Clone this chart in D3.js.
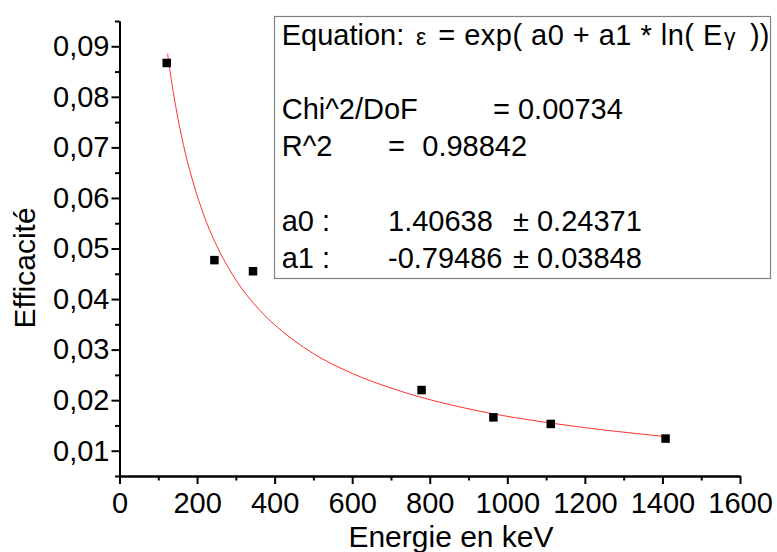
<!DOCTYPE html>
<html>
<head>
<meta charset="utf-8">
<script src="https://cdn.jsdelivr.net/npm/d3@7"></script>
<style>
  body { margin: 0; background: #fff; }
  text { font-family: "Liberation Sans", Arial, sans-serif; fill: #000; }
</style>
</head>
<body>
<script>
'use strict';

// measured points (energy in keV, efficiency)
var energies = [121.8, 244.7, 344.3, 778.9, 964.1, 1112.1, 1408.0];
var efficiencies = [0.0867, 0.0477, 0.0455, 0.0220, 0.0166, 0.0153, 0.0124];

// fitted curve
var fitEnergies = [124, 140, 160, 180, 210, 240, 280, 330, 400, 500, 600, 700, 800, 950, 1100, 1250, 1408];
var fitValues = [0.0885, 0.0803, 0.0722, 0.0658, 0.0582, 0.0523, 0.0463, 0.0406, 0.0349, 0.0292, 0.0253, 0.0224, 0.0201, 0.0175, 0.0156, 0.0141, 0.0128];

var xMajorTicks = [0, 200, 400, 600, 800, 1000, 1200, 1400, 1600];
var xMinorTicks = [100, 300, 500, 700, 900, 1100, 1300, 1500];
var yMajorTicks = [0.01, 0.02, 0.03, 0.04, 0.05, 0.06, 0.07, 0.08, 0.09];
var yMinorTicks = [0.005, 0.015, 0.025, 0.035, 0.045, 0.055, 0.065, 0.075, 0.085, 0.095];

var xTitle = "Energie en keV";
var yTitle = "Efficacité";

var myChart = {};

myChart.width = 777;
myChart.height = 552;
myChart.left = 119.5;
myChart.right = 740;
myChart.top = 21;
myChart.bottom = 476;

myChart.x = d3.scaleLinear().domain([0, 1600]).range([myChart.left, myChart.right]);
myChart.y = d3.scaleLinear().domain([0.005, 0.095]).range([myChart.bottom, myChart.top]);

myChart.frFormat = d3.formatLocale({decimal: ",", thousands: "", grouping: [3], currency: ["", ""]}).format(".2f");

myChart.appendSVG = function(div){
    return d3.select(div).append("svg")
        .attr("width", myChart.width)
        .attr("height", myChart.height);
}

myChart.styleAxis = function(g){
    g.select(".domain").attr("stroke", "#000").attr("stroke-width", 2);
    g.selectAll(".tick line").attr("stroke", "#000").attr("stroke-width", 2);
    g.selectAll(".tick text").style("font-size", "29px").attr("fill", "#000");
}

myChart.createAxes = function(svg){
    var x = myChart.x, y = myChart.y;

    svg.append("g")
        .attr("transform", "translate(0," + myChart.bottom + ")")
        .call(d3.axisBottom(x).tickValues(xMinorTicks).tickSize(4.5).tickFormat("").tickSizeOuter(0))
        .call(myChart.styleAxis);

    svg.append("g")
        .attr("transform", "translate(" + myChart.left + ",0)")
        .call(d3.axisLeft(y).tickValues(yMinorTicks).tickSize(4.5).tickFormat("").tickSizeOuter(0))
        .call(myChart.styleAxis);

    svg.append("g")
        .attr("transform", "translate(0," + myChart.bottom + ")")
        .call(d3.axisBottom(x).tickValues(xMajorTicks).tickSize(8).tickPadding(8.5).tickSizeOuter(0).tickFormat(d3.format("d")))
        .call(myChart.styleAxis);

    svg.append("g")
        .attr("transform", "translate(" + myChart.left + ",0)")
        .call(d3.axisLeft(y).tickValues(yMajorTicks).tickSize(8).tickPadding(2).tickSizeOuter(0).tickFormat(myChart.frFormat))
        .call(myChart.styleAxis);

    svg.append("text")
        .attr("x", 451)
        .attr("y", 547)
        .attr("text-anchor", "middle")
        .style("font-size", "30px")
        .text(xTitle);

    svg.append("text")
        .attr("transform", "translate(35,268) rotate(-90)")
        .attr("text-anchor", "middle")
        .style("font-size", "30px")
        .text(yTitle);
}

myChart.createFit = function(svg){
    var line = d3.line()
        .x(function(d){ return myChart.x(d[0]); })
        .y(function(d){ return myChart.y(d[1]); })
        .curve(d3.curveCatmullRom);

    svg.append("path")
        .datum(d3.zip(fitEnergies, fitValues))
        .attr("d", line)
        .attr("fill", "none")
        .attr("stroke", "#ff3030")
        .attr("stroke-width", 1);
}

myChart.createPoints = function(svg){
    var s = 8.5;
    svg.selectAll(".pt")
        .data(d3.zip(energies, efficiencies))
        .enter()
            .append("rect")
            .classed("pt", true)
            .attr("x", function(d){ return myChart.x(d[0]) - s/2; })
            .attr("y", function(d){ return myChart.y(d[1]) - s/2; })
            .attr("width", s)
            .attr("height", s)
            .attr("fill", "#000");
}

myChart.createLegend = function(svg){
    var g = svg.append("g");

    g.append("rect")
        .attr("x", 274.5)
        .attr("y", 16.5)
        .attr("width", 496)
        .attr("height", 262)
        .attr("fill", "#fff")
        .attr("stroke", "#808080")
        .attr("stroke-width", 1.2);

    // x, baseline, text, font size, stretched length
    var pieces = [
        [281.7, 45, "Equation:", 29, 0],
        [416, 45, "\u03b5", 23, 0],
        [438.3, 45, "= exp( a0 + a1 * ln( E", 29, 284],
        [724, 45, "\u03b3", 23, 0],
        [750, 45, "))", 29, 0],
        [281.7, 119.3, "Chi^2/DoF", 29, 0],
        [493, 119.3, "= 0.00734", 29, 0],
        [281.7, 156, "R^2", 29, 0],
        [388, 156, "=", 29, 0],
        [422.3, 156, "0.98842", 29, 0],
        [281.7, 231, "a0 :", 29, 0],
        [388, 231, "1.40638", 29, 0],
        [513, 231, "\u00b1 0.24371", 29, 0],
        [281.7, 268.3, "a1 :", 29, 0],
        [388, 268.3, "-0.79486", 29, 0],
        [513, 268.3, "\u00b1 0.03848", 29, 0]
    ];

    g.selectAll(".leg")
        .data(pieces)
        .enter()
            .append("text")
            .classed("leg", true)
            .attr("x", function(d){ return d[0]; })
            .attr("y", function(d){ return d[1]; })
            .attr("textLength", function(d){ return d[4] || null; })
            .attr("lengthAdjust", "spacing")
            .style("font-size", function(d){ return d[3] + "px"; })
            .text(function(d){ return d[2]; });
}

myChart.run = function(){
    var svg = myChart.appendSVG("body");
    myChart.createAxes(svg);
    myChart.createFit(svg);
    myChart.createPoints(svg);
    myChart.createLegend(svg);
}

window.onload = myChart.run;
</script>
</body>
</html>
